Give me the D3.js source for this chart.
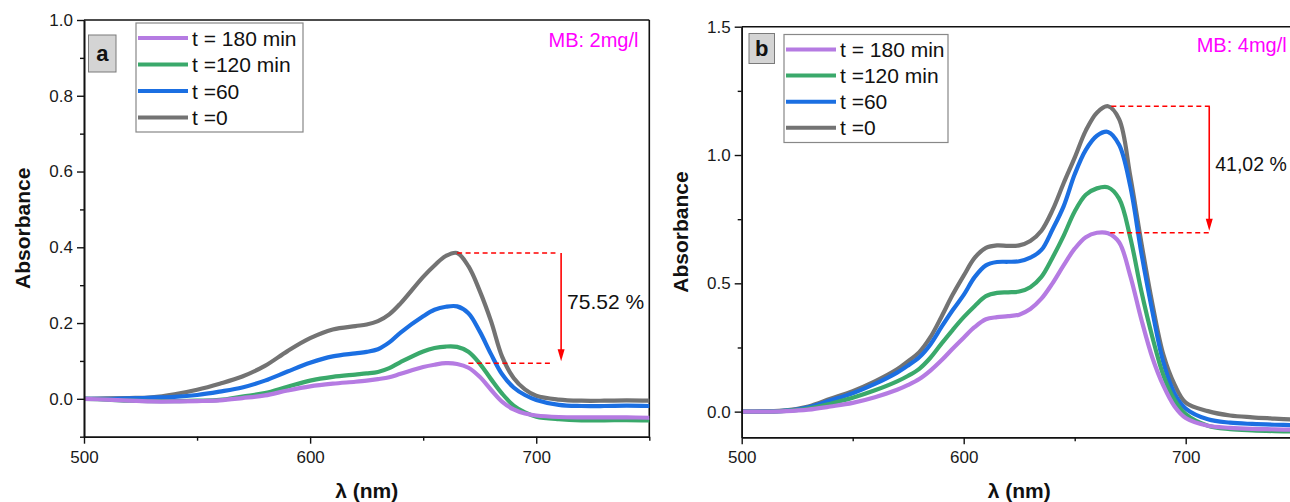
<!DOCTYPE html>
<html><head><meta charset="utf-8">
<script src="https://cdn.jsdelivr.net/npm/d3@7"></script>
<style>
html,body{margin:0;padding:0;background:#fff;overflow:hidden;}
text{font-family:"Liberation Sans",Arial,sans-serif;}
</style></head>
<body>
<svg id="chart" width="1290" height="502"></svg>
<script>
// ---------- DATA ----------
const legendLabels = ["t = 180 min", "t =120 min", "t =60", "t =0"];
const seriesColors = ["#b57be2", "#3aa96b", "#1b6fe2", "#737373"];

// Panel a (MB: 2mg/l)
const nmA = [500,510,520,530,540,550,560,570,580,590,600,610,620,625,630,635,640,650,655,660,665,670,675,680,685,690,695,700,710,720,730,740,750];
const a_t180 = [0,-0.002,-0.005,-0.007,-0.007,-0.006,-0.004,0.002,0.009,0.022,0.033,0.040,0.045,0.048,0.052,0.057,0.066,0.084,0.090,0.094,0.092,0.082,0.058,0.024,-0.008,-0.028,-0.039,-0.044,-0.048,-0.049,-0.049,-0.049,-0.050];
const a_t120 = [0,-0.002,-0.005,-0.006,-0.006,-0.005,-0.003,0.006,0.015,0.032,0.048,0.058,0.064,0.067,0.071,0.081,0.097,0.125,0.134,0.138,0.137,0.124,0.093,0.052,0.013,-0.018,-0.036,-0.047,-0.054,-0.057,-0.057,-0.056,-0.057];
const a_t60  = [0,0,0.001,0.003,0.005,0.010,0.019,0.030,0.048,0.072,0.095,0.112,0.120,0.124,0.131,0.149,0.175,0.218,0.235,0.243,0.244,0.226,0.178,0.118,0.064,0.030,0.010,-0.003,-0.016,-0.019,-0.019,-0.018,-0.019];
const a_t0   = [0,0.001,0.002,0.004,0.012,0.024,0.040,0.059,0.087,0.126,0.160,0.183,0.192,0.196,0.205,0.223,0.252,0.322,0.352,0.377,0.385,0.350,0.285,0.205,0.110,0.055,0.025,0.008,-0.002,-0.005,-0.005,-0.004,-0.005];

// Panel b (MB: 4mg/l)
const nmB = [500,510,520,530,540,550,560,570,575,580,585,590,595,600,605,610,615,620,625,630,635,640,645,650,655,660,665,670,675,680,685,690,695,700,710,720,730,740,750];
const b_t180 = [0,0,0.002,0.008,0.020,0.034,0.056,0.085,0.104,0.127,0.160,0.200,0.245,0.288,0.330,0.360,0.368,0.372,0.378,0.400,0.440,0.500,0.570,0.635,0.680,0.697,0.695,0.660,0.530,0.360,0.210,0.100,0.020,-0.025,-0.055,-0.063,-0.067,-0.069,-0.071];
const b_t120 = [0,0,0.003,0.012,0.031,0.054,0.083,0.118,0.140,0.167,0.210,0.265,0.318,0.368,0.412,0.450,0.463,0.465,0.468,0.485,0.525,0.600,0.685,0.780,0.845,0.870,0.874,0.830,0.680,0.470,0.290,0.140,0.045,-0.010,-0.055,-0.068,-0.073,-0.076,-0.078];
const b_t60  = [0,0.001,0.004,0.017,0.044,0.072,0.108,0.152,0.180,0.212,0.262,0.330,0.395,0.455,0.525,0.570,0.583,0.584,0.586,0.600,0.630,0.710,0.800,0.925,1.020,1.075,1.090,1.040,0.880,0.620,0.390,0.190,0.070,0.012,-0.030,-0.043,-0.048,-0.051,-0.053];
const b_t0   = [0,0.001,0.005,0.020,0.050,0.080,0.118,0.165,0.197,0.232,0.290,0.370,0.455,0.530,0.600,0.638,0.648,0.646,0.648,0.665,0.705,0.785,0.890,0.990,1.095,1.165,1.190,1.140,0.920,0.660,0.420,0.220,0.105,0.035,0.002,-0.015,-0.022,-0.027,-0.032];

// tick values
const xTicks = [500,600,700];
const xMinor = [550,650,750];
const yTicksA = [0.0,0.2,0.4,0.6,0.8,1.0];
const yMinorA = [-0.1,0.1,0.3,0.5,0.7,0.9];
const yTicksB = [0.0,0.5,1.0,1.5];
const yMinorB = [0.25,0.75,1.25];

// annotations: [dashed top start, dashed top end, dashed bottom start, dashed bottom end, arrow x] (nm)
const annotA = [665, 708.5, 670, 707, 711];
const annotB = [666.5, 711.7, 666, 711.7, 710.6];
const annotTextA = "75.52 %";
const annotTextB = "41,02 %";
const panelLetters = ["a", "b"];
const mbTexts = ["MB: 2mg/l", "MB: 4mg/l"];

// ---------- DRAW ----------
const svg = d3.select("#chart");

function drawPanel(cfg) {
  const g = svg.append("g");
  const x = d3.scaleLinear().domain([500, 750]).range([cfg.left, cfg.right]);
  const y = d3.scaleLinear().domain(cfg.yDomain).range([cfg.bottom, cfg.top]);

  // frame top & right
  g.append("line").attr("x1", cfg.left).attr("x2", cfg.right).attr("y1", cfg.top).attr("y2", cfg.top)
    .attr("stroke", "#111").attr("stroke-width", 1.6);
  g.append("line").attr("x1", cfg.right).attr("x2", cfg.right).attr("y1", cfg.top).attr("y2", cfg.bottom)
    .attr("stroke", "#111").attr("stroke-width", 1.6);

  // curves (t=0 first, t=180 last on top)
  const series = [cfg.s180, cfg.s120, cfg.s60, cfg.s0];
  const line = d3.line().x((d, i) => x(cfg.nm[i])).y(d => y(d)).curve(d3.curveCatmullRom.alpha(0.5));
  const clipId = "clip" + cfg.id;
  svg.append("clipPath").attr("id", clipId).append("rect")
    .attr("x", cfg.left).attr("y", cfg.top).attr("width", cfg.right - cfg.left).attr("height", cfg.bottom - cfg.top);
  const cg = g.append("g").attr("clip-path", `url(#${clipId})`);
  for (let k = 3; k >= 0; k--) {
    cg.append("path").datum(series[k]).attr("d", line)
      .attr("fill", "none").attr("stroke", seriesColors[k]).attr("stroke-width", 4.2)
      .attr("stroke-linejoin", "round").attr("stroke-linecap", "round");
  }

  // axes
  const fmtY = d3.format(".1f");
  const axL = g.append("g").attr("transform", `translate(${cfg.left},0)`)
    .call(d3.axisLeft(y).tickValues(cfg.yTicks).tickFormat(fmtY).tickSize(7).tickSizeOuter(0).tickPadding(4));
  const axLm = g.append("g").attr("transform", `translate(${cfg.left},0)`)
    .call(d3.axisLeft(y).tickValues(cfg.yMinor).tickFormat("").tickSize(4).tickSizeOuter(0));
  const axB = g.append("g").attr("transform", `translate(0,${cfg.bottom})`)
    .call(d3.axisBottom(x).tickValues(xTicks).tickFormat(d3.format("d")).tickSize(7).tickSizeOuter(0).tickPadding(7));
  const axBm = g.append("g").attr("transform", `translate(0,${cfg.bottom})`)
    .call(d3.axisBottom(x).tickValues(xMinor).tickFormat("").tickSize(4).tickSizeOuter(0));
  [axL, axLm, axB, axBm].forEach(a => {
    a.select(".domain").attr("stroke", "#111").attr("stroke-width", 1.6);
    a.selectAll(".tick line").attr("stroke", "#111").attr("stroke-width", 1.4);
    a.selectAll("text").attr("font-family", '"Liberation Sans",Arial,sans-serif')
      .attr("font-size", 17).attr("fill", "#1a1a1a");
  });
  axB.selectAll("text").attr("dy", "0.71em");

  // axis titles
  g.append("text").attr("x", (cfg.left + cfg.right) / 2).attr("y", 498)
    .attr("text-anchor", "middle").attr("font-weight", "bold").attr("font-size", 21).attr("fill", "#111")
    .text("λ (nm)");
  g.append("text").attr("transform", `translate(${cfg.left - 54},${(cfg.top + cfg.bottom) / 2}) rotate(-90)`)
    .attr("text-anchor", "middle").attr("font-weight", "bold").attr("font-size", 21).attr("fill", "#111")
    .text("Absorbance");

  // panel letter box
  g.append("rect").attr("x", cfg.letterBox[0]).attr("y", cfg.letterBox[1]).attr("width", cfg.letterBox[2]).attr("height", cfg.letterBox[3])
    .attr("fill", "#d4d4d4").attr("stroke", "#7a7a7a").attr("stroke-width", 1);
  g.append("text").attr("x", cfg.letterBox[0] + cfg.letterBox[2] / 2).attr("y", cfg.letterBox[1] + cfg.letterBox[3] / 2 + 7.5)
    .attr("text-anchor", "middle").attr("font-weight", "bold").attr("font-size", 22).attr("fill", "#111")
    .text(cfg.letter);

  // legend
  const lb = cfg.legend;
  g.append("rect").attr("x", lb.x).attr("y", lb.y).attr("width", lb.w).attr("height", lb.h)
    .attr("fill", "#fff").attr("stroke", "#888").attr("stroke-width", 1.2);
  legendLabels.forEach((lab, i) => {
    const yy = lb.y + lb.row0 + i * lb.dy;
    g.append("line").attr("x1", lb.x + 2).attr("x2", lb.x + 52).attr("y1", yy).attr("y2", yy)
      .attr("stroke", seriesColors[i]).attr("stroke-width", 4);
    g.append("text").attr("x", lb.x + 56).attr("y", yy + 7.5).attr("font-size", 21).attr("fill", "#111").text(lab);
  });

  // MB text
  g.append("text").attr("x", cfg.mb[0]).attr("y", cfg.mb[1]).attr("text-anchor", cfg.mb[2])
    .attr("font-size", 20).attr("fill", "#ff00ff").text(cfg.mbText);

  // annotation
  const an = cfg.annot;
  const topV = d3.max(cfg.s0), botV = d3.max(cfg.s180);
  g.append("line").attr("x1", x(an[0])).attr("x2", x(an[1])).attr("y1", y(topV)).attr("y2", y(topV))
    .attr("stroke", "#ff0000").attr("stroke-width", 1.6).attr("stroke-dasharray", "5,3.5");
  g.append("line").attr("x1", x(an[2])).attr("x2", x(an[3])).attr("y1", y(botV)).attr("y2", y(botV))
    .attr("stroke", "#ff0000").attr("stroke-width", 1.6).attr("stroke-dasharray", "5,3.5");
  const ax = x(an[4]), ay1 = y(topV), ay2 = y(botV) - 2;
  g.append("line").attr("x1", ax).attr("x2", ax).attr("y1", ay1).attr("y2", ay2 - 10)
    .attr("stroke", "#ff0000").attr("stroke-width", 1.6);
  g.append("path").attr("d", `M${ax - 3.5},${ay2 - 12}L${ax + 3.5},${ay2 - 12}L${ax},${ay2}Z`).attr("fill", "#ff0000");
  g.append("text").attr("x", ax + 6).attr("y", (ay1 + ay2) / 2 + cfg.annotDy).attr("font-size", cfg.annotSize).attr("fill", "#111")
    .text(cfg.annotText);
}

drawPanel({
  id: "a", left: 84, right: 649.3, top: 20, bottom: 436.7, yDomain: [-0.1, 1.0],
  nm: nmA, s180: a_t180, s120: a_t120, s60: a_t60, s0: a_t0,
  yTicks: yTicksA, yMinor: yMinorA,
  letter: panelLetters[0], letterBox: [88.5, 35, 27.5, 37],
  legend: { x: 136, y: 23, w: 167, h: 109, row0: 15, dy: 26.5 },
  mb: [638.5, 46.5, "end"], mbText: mbTexts[0],
  annot: annotA, annotText: annotTextA, annotDy: 2, annotSize: 21
});
drawPanel({
  id: "b", left: 741.7, right: 1296.7, top: 26.7, bottom: 437.3, yDomain: [-0.1, 1.5],
  nm: nmB, s180: b_t180, s120: b_t120, s60: b_t60, s0: b_t0,
  yTicks: yTicksB, yMinor: yMinorB,
  letter: panelLetters[1], letterBox: [749, 33.5, 25.5, 30],
  legend: { x: 784, y: 34.5, w: 164, h: 108, row0: 15, dy: 26.1 },
  mb: [1196.7, 51.5, "start"], mbText: mbTexts[1],
  annot: annotB, annotText: annotTextB, annotDy: 2, annotSize: 19.5
});
</script>
</body></html>
